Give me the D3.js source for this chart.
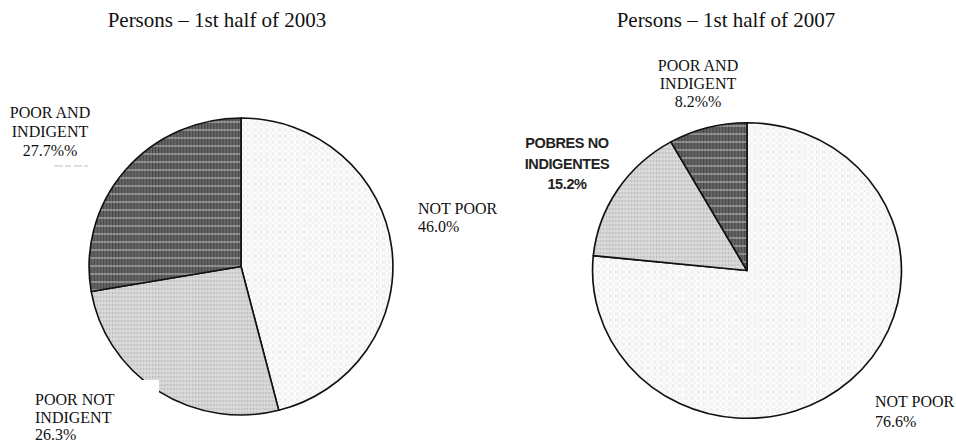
<!DOCTYPE html>
<html>
<head>
<meta charset="utf-8">
<script src="https://cdn.jsdelivr.net/npm/d3@7"></script>
<style>
  body { margin: 0; background: #fff; }
  svg { display: block; }
  .title { font-family: "Liberation Serif", "Times New Roman", serif; font-size: 21px; fill: #111; }
  .lbl { font-family: "Liberation Serif", "Times New Roman", serif; font-size: 16px; fill: #111; }
  .lbl-bold { font-family: "Liberation Sans", Arial, sans-serif; font-size: 14.5px; font-weight: bold; fill: #222; letter-spacing: -0.4px; }
</style>
</head>
<body>
<div id="chart"></div>
<script>
// data
var pieTitles = ["Persons \u2013 1st half of 2003", "Persons \u2013 1st half of 2007"];
var categories = ["NOT POOR", "POOR NOT INDIGENT", "POOR AND INDIGENT"];
var values2003 = [46.0, 26.3, 27.7];
var values2007 = [76.6, 15.2, 8.2];
var labels2003 = [["NOT POOR", "46.0%"], ["POOR NOT", "INDIGENT", "26.3%"], ["POOR AND", "INDIGENT", "27.7%%"]];
var labels2007 = [["NOT POOR", "76.6%"], ["POBRES NO", "INDIGENTES", "15.2%"], ["POOR AND", "INDIGENT", "8.2%%"]];

var width = 956;
var height = 446;

// layout of the two pies and their labels
var pies = [
   {
      values: values2003, labels: labels2003, title: pieTitles[0],
      cx: 241, cy: 266.5, r: 148.5, sx: 1.023, titleX: 217,
      lbl: [
         { x: 418, y: 214, anchor: "start", dy: 18 },
         { x: 35, y: 405, anchor: "start", dy: 17.5 },
         { x: 50, y: 118, anchor: "middle", dy: 19 }
      ]
   },
   {
      values: values2007, labels: labels2007, title: pieTitles[1],
      cx: 747, cy: 270.5, r: 147.8, sx: 1.045, titleX: 726,
      lbl: [
         { x: 875, y: 407, anchor: "start", dy: 20 },
         { x: 567, y: 148, anchor: "middle", dy: 20.5, bold: true },
         { x: 698, y: 71, anchor: "middle", dy: 18 }
      ]
   }
];

var svg = d3.select("#chart")
   .append("svg")
   .attr("width", width)
   .attr("height", height);

// fill patterns
var defs = svg.append("defs");

var pDots = defs.append("pattern")
   .attr("id", "pat0")
   .attr("patternUnits", "userSpaceOnUse")
   .attr("width", 6).attr("height", 6);
pDots.append("rect").attr("width", 6).attr("height", 6).attr("fill", "#fcfcfc");
[[0, 0], [2, 0], [0, 2], [2, 2], [4, 4]].forEach(function (p) {
   pDots.append("rect").attr("x", p[0]).attr("y", p[1])
      .attr("width", 1).attr("height", 1).attr("fill", "#d6d6d6");
});

var pGrid = defs.append("pattern")
   .attr("id", "pat1")
   .attr("patternUnits", "userSpaceOnUse")
   .attr("width", 3).attr("height", 4);
pGrid.append("rect").attr("width", 3).attr("height", 4).attr("fill", "#d4d4d4");
pGrid.append("rect").attr("width", 1).attr("height", 4).attr("fill", "#bdbdbd");
pGrid.append("rect").attr("width", 3).attr("height", 1).attr("fill", "#e4e4e4");

var pDark = defs.append("pattern")
   .attr("id", "pat2")
   .attr("patternUnits", "userSpaceOnUse")
   .attr("width", 3).attr("height", 8);
pDark.append("rect").attr("width", 3).attr("height", 8).attr("fill", "#666");
pDark.append("rect").attr("width", 1).attr("height", 8).attr("fill", "#444");
pDark.append("rect").attr("y", 7).attr("width", 3).attr("height", 1).attr("fill", "#bdbdbd");

var fills = ["url(#pat0)", "url(#pat1)", "url(#pat2)"];

var pie = d3.pie()
   .sort(null)
   .value(function (d) { return d; });

pies.forEach(function (p) {
   var arc = d3.arc()
      .innerRadius(0)
      .outerRadius(p.r);

   var g = svg.append("g")
      .attr("transform", "translate(" + p.cx + "," + p.cy + ") scale(" + p.sx + ",1)");

   g.selectAll("path")
      .data(pie(p.values))
      .enter().append("path")
      .attr("d", arc)
      .attr("fill", function (d, i) { return fills[i]; })
      .attr("stroke", "#111")
      .attr("stroke-width", 1.6)
      .attr("stroke-linejoin", "round")
      .append("title")
      .text(function (d, i) { return categories[i] + ": " + d.data + "%"; });

   svg.append("text")
      .attr("class", "title")
      .attr("x", p.titleX)
      .attr("y", 27)
      .attr("text-anchor", "middle")
      .text(p.title);
});

// white patch over the lower left pie, behind its label (as in the source)
svg.append("rect")
   .attr("x", 0).attr("y", 380)
   .attr("width", 159).attr("height", 66)
   .attr("fill", "#fff");

// faint leftover text marks under the 27.7% label
svg.append("line")
   .attr("x1", 54).attr("x2", 97)
   .attr("y1", 166).attr("y2", 166)
   .attr("stroke", "#d4d4d4")
   .attr("stroke-width", 1.5)
   .attr("stroke-dasharray", "9,2,6,3,8,2,4");

// slice labels
pies.forEach(function (p) {
   p.labels.forEach(function (lines, i) {
      var L = p.lbl[i];
      var t = svg.append("text")
         .attr("class", L.bold ? "lbl-bold" : "lbl")
         .attr("text-anchor", L.anchor);
      lines.forEach(function (s, k) {
         t.append("tspan")
            .attr("x", L.x)
            .attr("y", L.y + k * L.dy)
            .text(s);
      });
   });
});
</script>
</body>
</html>
